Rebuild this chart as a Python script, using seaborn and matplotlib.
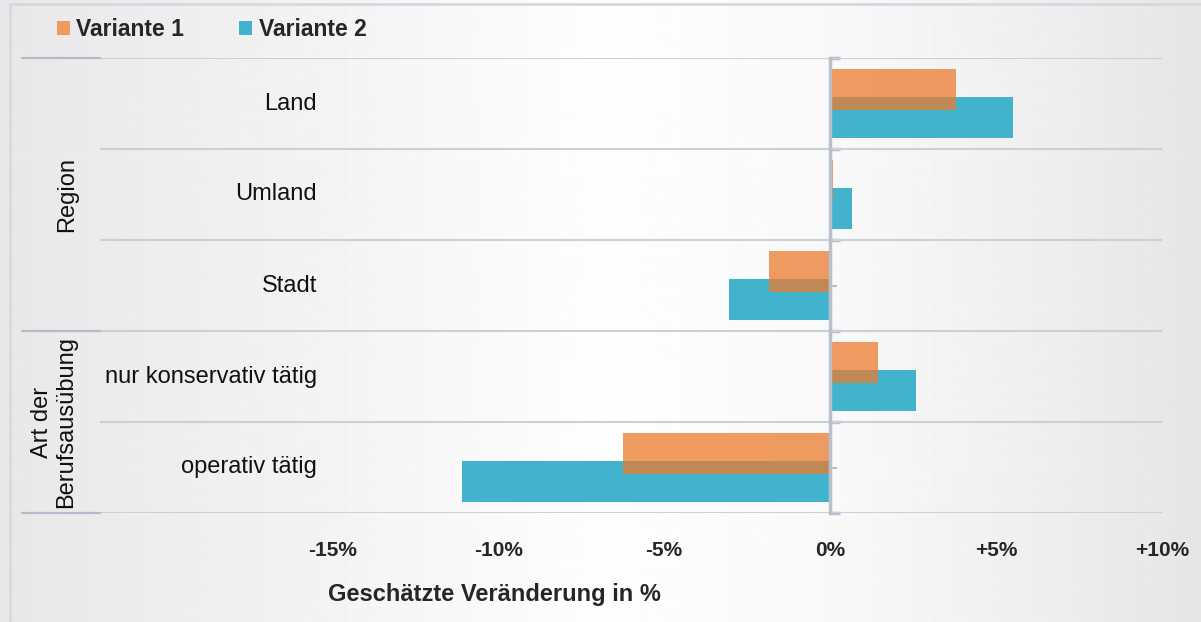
#!/usr/bin/env python
# coding=utf-8
import numpy as np
import pandas as pd
import matplotlib
matplotlib.use("Agg")
import matplotlib.pyplot as plt
import matplotlib.transforms as mtransforms
from matplotlib.lines import Line2D
from matplotlib.patches import Patch
import seaborn as sns

# Daten (in %)
kategorien = ["Land", "Umland", "Stadt", "nur konservativ tätig", "operativ tätig"]
variante_1 = [3.8, 0.1, -1.85, 1.45, -6.25]
variante_2 = [5.5, 0.65, -3.05, 2.6, -11.1]
varianten = ["Variante 1", "Variante 2"]
gruppen = ["Region", "Art der\nBerufsausübung"]
gruppen_mitte = [1, 3.5]
gruppen_grenzen = [-0.5, 2.5, 4.5]
x_ticks = [-15, -10, -5, 0, 5, 10]
x_ticklabels = ["-15%", "-10%", "-5%", "0%", "+5%", "+10%"]
x_label = "Geschätzte Veränderung in %"

ORANGE = "#eb7b2e"
ORANGE_SHOWN = "#f09a60"
TEAL = "#41b3cc"
GRID = "#c9d0dc"
DARK_GRID = "#b4bccb"

sns.set_style("white")
plt.rcParams["font.family"] = ["Liberation Sans", "DejaVu Sans"]

df = pd.DataFrame({
    "kategorie": kategorien * 2,
    "wert": variante_1 + variante_2,
    "variante": [varianten[0]] * len(kategorien) + [varianten[1]] * len(kategorien),
})

W, H = 1201, 622
fig = plt.figure(figsize=(W / 100, H / 100), dpi=100)

# Hintergrund mit horizontalem Verlauf
bg = fig.add_axes([0, 0, 1, 1], zorder=-5)
xs = np.linspace(0, 1, 600)
grau = np.interp(xs, [0, 0.25, 0.5, 0.7, 0.85, 1.0], [0.91, 0.95, 0.995, 0.975, 0.94, 0.90])
bg.imshow(np.tile(grau, (2, 1)), cmap="gray", vmin=0, vmax=1, aspect="auto",
          extent=[0, 1, 0, 1])
bg.set_axis_off()
# Rahmen oben / links
fig.add_artist(Line2D([10 / W, 1], [1 - 4 / H, 1 - 4 / H], color="#d3d9e3", lw=2))
fig.add_artist(Line2D([10 / W, 10 / W], [0, 1 - 4 / H], color="#d3d9e3", lw=2))

ax = fig.add_axes([100 / W, 1 - 513 / H, 1062 / W, (513 - 58) / H])
ax.patch.set_alpha(0)

sns.barplot(data=df, y="kategorie", x="wert", hue="variante", order=kategorien,
            hue_order=varianten, palette=[ORANGE, TEAL], saturation=1, orient="h",
            dodge=True, width=0.616, errorbar=None, linewidth=0, ax=ax, legend=False)

# Balken überlappen lassen: Höhe vergrößern, Mitte behalten
for i, cont in enumerate(ax.containers):
    for p in cont.patches:
        cy = p.get_y() + p.get_height() / 2
        p.set_height(0.46)
        p.set_y(cy - 0.23)
        if i == 0:
            p.set_alpha(0.75)
            p.set_zorder(4)
        else:
            p.set_zorder(3)

ax.set_xlim(-22, 10)
ax.set_ylim(len(kategorien) - 0.5, -0.5)

# horizontale Trennlinien
for b in np.arange(-0.5, len(kategorien)):
    ax.axhline(b, color=GRID, lw=1.5, zorder=1)
trans = mtransforms.blended_transform_factory(ax.transAxes, ax.transData)
for b in gruppen_grenzen:
    ax.add_line(Line2D([-78 / 1062, 0], [b, b], color=DARK_GRID, lw=1.6,
                       transform=trans, clip_on=False))

# Null-Linie als linke Achse
for s in ["top", "right", "bottom"]:
    ax.spines[s].set_visible(False)
ax.spines["left"].set_position(("data", 0))
ax.spines["left"].set_color("#b9c0cc")
ax.spines["left"].set_linewidth(2.5)
ax.spines["left"].set_zorder(5)
ax.set_yticks(range(len(kategorien)))
ax.set_yticks(np.arange(-0.5, len(kategorien)), minor=True)
ax.tick_params(axis="y", which="major", direction="in", length=5, width=1.5,
               color="#b9c0cc", labelleft=False, left=True)
ax.tick_params(axis="y", which="minor", direction="in", length=7, width=2.5,
               color="#b9c0cc", left=True)
ax.set_ylabel("")

# Kategorienbeschriftungen
for i, k in enumerate(kategorien):
    ax.text(217 / 1062, i, k, transform=trans, ha="right", va="center",
            fontsize=17, color="#111111")

# Gruppenbeschriftungen
ax.text(-33 / 1062, gruppen_mitte[0], gruppen[0], transform=trans, rotation=90,
        ha="center", va="center", fontsize=17, color="#111111")
ax.text(-46 / 1062, gruppen_mitte[1], gruppen[1], transform=trans, rotation=90,
        ha="center", va="center", fontsize=17, color="#111111",
        multialignment="center", linespacing=1.1)

# x-Achse
ax.set_xticks(x_ticks)
ax.set_xticklabels(x_ticklabels)
ax.tick_params(axis="x", length=0, pad=20, labelsize=15)
for lab in ax.get_xticklabels():
    lab.set_fontweight("bold")
ax.set_xlabel("")
fig.text(328 / W, 1 - 594 / H, x_label, ha="left", va="center", fontsize=17,
         fontweight="bold")

# Legende
handles = [Patch(facecolor=ORANGE_SHOWN, edgecolor="none"),
           Patch(facecolor=TEAL, edgecolor="none")]
fig.legend(handles, varianten, loc="center left",
           bbox_to_anchor=(57 / W, 1 - 30 / H), ncol=2, frameon=False,
           handlelength=0.55, handleheight=0.55, handletextpad=0.3,
           columnspacing=2.4, borderpad=0, borderaxespad=0,
           prop={"size": 16.5, "weight": "bold"})

fig.savefig("out.png", dpi=100)
